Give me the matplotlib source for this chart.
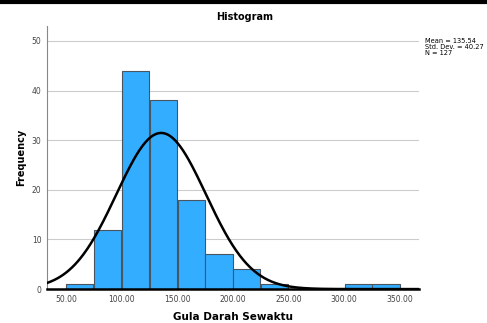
import matplotlib
matplotlib.use("Agg")
import matplotlib.pyplot as plt
import numpy as np
from matplotlib.lines import Line2D

# bin edges (left) and counts
bin_left = [50, 75, 100, 125, 150, 175, 200, 225, 300, 325]
counts = [1, 12, 44, 38, 18, 7, 4, 1, 1, 1]
bin_width = 25
mean, std, n = 135.54, 40.27, 127
xticks = [50, 100, 150, 200, 250, 300, 350]
yticks = [0, 10, 20, 30, 40, 50]

plt.rcParams['font.family'] = ['DejaVu Sans']
fig = plt.figure(figsize=(4.87, 3.23), dpi=100)
ax = fig.add_axes([0.0965, 0.105, 0.7635, 0.8145])

# small gap between neighbouring bars, like SPSS draws them
gap = 0.5
ax.bar(np.array(bin_left) + gap / 2, counts, width=bin_width - gap, align='edge',
       color='#33adff', edgecolor='#4a5560', linewidth=0.8, zorder=3)

x = np.linspace(33, 367, 400)
y = n * bin_width / (std * np.sqrt(2 * np.pi)) * np.exp(-0.5 * ((x - mean) / std) ** 2)
ax.plot(x, y, color='black', linewidth=1.8, zorder=4)

ax.set_xlim(33, 367)
ax.set_ylim(0, 53)
ax.set_xticks(xticks)
ax.set_xticklabels([f"{t:.2f}" for t in xticks])
ax.set_yticks(yticks)
ax.tick_params(length=0, labelsize=5.5, colors='#444444', pad=4)
ax.grid(axis='y', color='#cccccc', linewidth=0.8, zorder=0)
ax.set_axisbelow(True)
for s in ['top', 'right']:
    ax.spines[s].set_visible(False)
ax.spines['left'].set_color('#888888')
ax.spines['left'].set_linewidth(0.8)
ax.spines['bottom'].set_color('black')
ax.spines['bottom'].set_linewidth(1.8)
ax.spines['bottom'].set_zorder(5)

ax.set_xlabel('Gula Darah Sewaktu', fontsize=7.5, fontweight='bold', labelpad=6)
ax.set_ylabel('Frequency', fontsize=7, fontweight='bold', labelpad=4)
fig.text(245 / 487, 1 - 17 / 323, 'Histogram', ha='center', va='center',
         fontsize=7, fontweight='bold')
fig.text(425 / 487, 1 - 38 / 323,
         f"Mean = {mean}\nStd. Dev. = {std}\nN = {n}",
         ha='left', va='top', fontsize=4.8, linespacing=1.0)

fig.add_artist(Line2D([0, 1], [1 - 2 / 323, 1 - 2 / 323], color='black',
                      linewidth=3, transform=fig.transFigure))

fig.savefig('out.png', dpi=100)
